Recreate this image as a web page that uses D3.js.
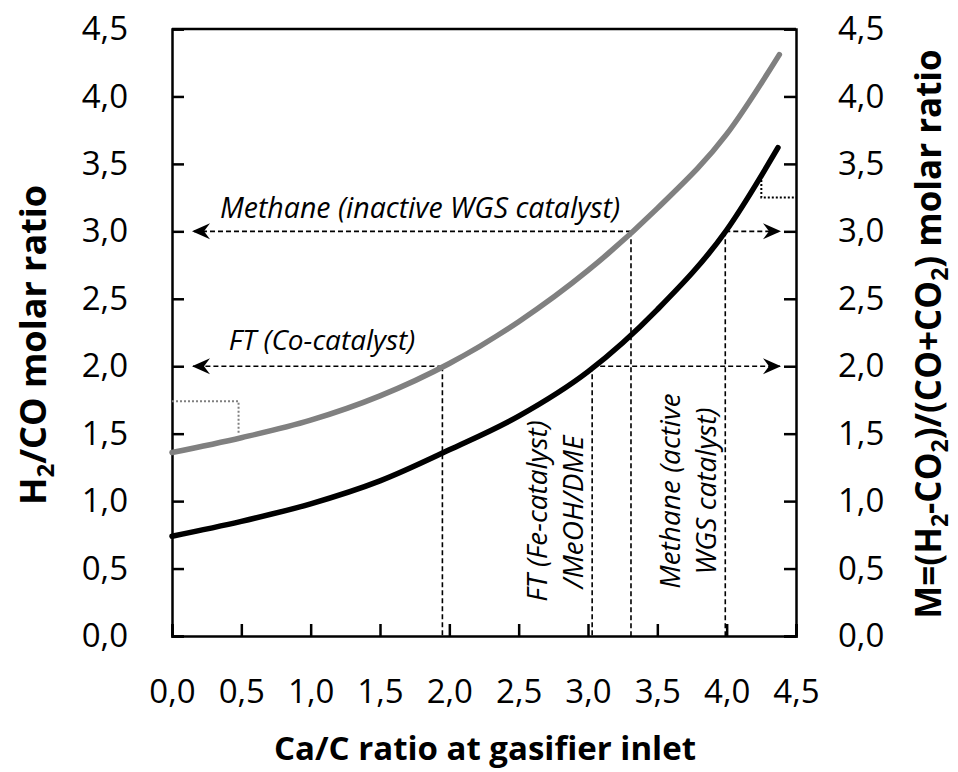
<!DOCTYPE html>
<html>
<head>
<meta charset="utf-8">
<script src="https://cdn.jsdelivr.net/npm/d3@7"></script>
<style>
  body { margin: 0; background: #fff; }
  text { font-family: "Open Sans", sans-serif; }
</style>
</head>
<body>
<svg id="chart" width="958" height="772"></svg>
<script>
// Ca/C ratio and the two curves
var caC_gray = [0, 0.5, 1.0, 1.5, 2.0, 2.5, 3.0, 3.5, 4.0, 4.38];
var h2co = [1.36, 1.47, 1.60, 1.78, 2.02, 2.33, 2.71, 3.17, 3.72, 4.31];
var caC_black = [0, 0.5, 1.0, 1.5, 2.0, 2.5, 3.0, 3.5, 4.0, 4.37];
var mRatio = [0.74, 0.85, 0.98, 1.15, 1.38, 1.63, 1.96, 2.42, 3.01, 3.62];
var ticks = [0, 0.5, 1, 1.5, 2, 2.5, 3, 3.5, 4, 4.5];

// target ratios: where each curve reaches them
var leftTargets = [
  { ratio: 3.0, caC: 3.31, label: "Methane (inactive WGS catalyst)" },
  { ratio: 2.0, caC: 1.95, label: "FT (Co-catalyst)" }
];
var rightTargets = [
  { ratio: 3.0, caC: 3.99 },
  { ratio: 2.0, caC: 3.03 }
];

var svg = d3.select("#chart");
var margin = { left: 172, right: 162, top: 29, bottom: 136 };
var W = 958, H = 772;

var x = d3.scaleLinear().domain([0, 4.5]).range([margin.left, W - margin.right]);
var y = d3.scaleLinear().domain([0, 4.5]).range([H - margin.bottom, margin.top]);

var fmt = function(d) { return d3.format(".1f")(d).replace(".", ","); };
var tickFont = 33;

// axes, ticks pointing inward
svg.append("g")
  .attr("transform", "translate(0," + y(0) + ")")
  .call(d3.axisTop(x).tickValues(ticks).tickSize(12).tickFormat(""));
svg.append("g")
  .attr("transform", "translate(0," + y(0) + ")")
  .call(d3.axisBottom(x).tickValues(ticks).tickSize(0).tickFormat(fmt))
  .call(function(g) {
    g.select(".domain").remove();
    g.selectAll("text").attr("y", 67).attr("dy", 0);
  });

svg.append("g")
  .attr("transform", "translate(" + x(0) + ",0)")
  .call(d3.axisRight(y).tickValues(ticks).tickSize(12).tickFormat(""));
svg.append("g")
  .attr("transform", "translate(" + x(0) + ",0)")
  .call(d3.axisLeft(y).tickValues(ticks).tickSize(0).tickPadding(44).tickFormat(fmt))
  .call(function(g) { g.select(".domain").remove(); });

svg.append("g")
  .attr("transform", "translate(" + x(4.5) + ",0)")
  .call(d3.axisLeft(y).tickValues(ticks).tickSize(12).tickFormat(""));
svg.append("g")
  .attr("transform", "translate(" + x(4.5) + ",0)")
  .call(d3.axisRight(y).tickValues(ticks).tickSize(0).tickPadding(42).tickFormat(fmt))
  .call(function(g) { g.select(".domain").remove(); });

// top border
svg.append("line")
  .attr("x1", x(0)).attr("x2", x(4.5))
  .attr("y1", y(4.5)).attr("y2", y(4.5))
  .attr("stroke", "#000").attr("stroke-width", 2.5);

svg.selectAll(".domain").attr("stroke", "#000").attr("stroke-width", 2.5);
svg.selectAll(".tick line").attr("stroke", "#000").attr("stroke-width", 2.5);
svg.selectAll(".tick text").attr("font-size", tickFont).attr("fill", "#000")
  .style("font-family", "'Open Sans', sans-serif");

// arrow marker
var defs = svg.append("defs");
defs.append("marker")
  .attr("id", "arrow")
  .attr("viewBox", "0 0 18 18")
  .attr("refX", 17).attr("refY", 9)
  .attr("markerWidth", 18).attr("markerHeight", 18)
  .attr("markerUnits", "userSpaceOnUse")
  .attr("orient", "auto-start-reverse")
  .append("path")
  .attr("d", "M0,1 L18,9 L0,17 L6,9 Z")
  .attr("fill", "#000");

var dash = "5,3";

// left targets: arrow from curve to left axis, dashed drop line
leftTargets.forEach(function(t) {
  svg.append("line")
    .attr("x1", x(t.caC)).attr("y1", y(t.ratio))
    .attr("x2", x(0) + 21).attr("y2", y(t.ratio))
    .attr("stroke", "#000").attr("stroke-width", 1.6)
    .attr("stroke-dasharray", dash)
    .attr("marker-end", "url(#arrow)");
  svg.append("line")
    .attr("x1", x(t.caC)).attr("y1", y(t.ratio))
    .attr("x2", x(t.caC)).attr("y2", y(0))
    .attr("stroke", "#000").attr("stroke-width", 1.6)
    .attr("stroke-dasharray", dash);
});
rightTargets.forEach(function(t) {
  svg.append("line")
    .attr("x1", x(t.caC)).attr("y1", y(t.ratio))
    .attr("x2", x(4.5) - 16).attr("y2", y(t.ratio))
    .attr("stroke", "#000").attr("stroke-width", 1.6)
    .attr("stroke-dasharray", dash)
    .attr("marker-end", "url(#arrow)");
  svg.append("line")
    .attr("x1", x(t.caC)).attr("y1", y(t.ratio))
    .attr("x2", x(t.caC)).attr("y2", y(0))
    .attr("stroke", "#000").attr("stroke-width", 1.6)
    .attr("stroke-dasharray", dash);
});

// curves
var line = d3.line().curve(d3.curveMonotoneX);
var grayPts = caC_gray.map(function(c, i) { return [x(c), y(h2co[i])]; });
var blackPts = caC_black.map(function(c, i) { return [x(c), y(mRatio[i])]; });

svg.append("path").attr("d", line(grayPts))
  .attr("fill", "none").attr("stroke", "#808080")
  .attr("stroke-width", 5.5).attr("stroke-linecap", "round");
svg.append("path").attr("d", line(blackPts))
  .attr("fill", "none").attr("stroke", "#000")
  .attr("stroke-width", 5.5).attr("stroke-linecap", "round");

// dotted brackets pointing each curve to its axis
svg.append("path")
  .attr("d", "M" + x(0) + "," + y(1.74) + "H" + x(0.48) + "V" + y(1.5))
  .attr("fill", "none").attr("stroke", "#808080")
  .attr("stroke-width", 2).attr("stroke-dasharray", "2,2");
svg.append("path")
  .attr("d", "M" + x(4.25) + "," + y(3.38) + "V" + y(3.25) + "H" + x(4.5))
  .attr("fill", "none").attr("stroke", "#000")
  .attr("stroke-width", 2).attr("stroke-dasharray", "2,2");

// annotation labels
var annFont = 28;
svg.append("text")
  .attr("x", 420).attr("y", 218)
  .attr("text-anchor", "middle")
  .attr("font-size", 28.5).attr("font-style", "italic")
  .text(leftTargets[0].label);
svg.append("text")
  .attr("x", 322).attr("y", 350)
  .attr("text-anchor", "middle")
  .attr("font-size", annFont).attr("font-style", "italic")
  .text(leftTargets[1].label);

var vLabels = [
  { text: "FT (Fe-catalyst)", cx: 547, cy: 511 },
  { text: "/MeOH/DME", cx: 583, cy: 512 },
  { text: "Methane (active", cx: 680, cy: 491 },
  { text: "WGS catalyst)", cx: 716, cy: 491 }
];
svg.selectAll(".vlab").data(vLabels).enter().append("text")
  .attr("class", "vlab")
  .attr("transform", function(d) { return "translate(" + d.cx + "," + d.cy + ") rotate(-90)"; })
  .attr("text-anchor", "middle")
  .attr("font-size", annFont).attr("font-style", "italic")
  .text(function(d) { return d.text; });

// axis titles
svg.append("text")
  .attr("x", 485).attr("y", 760)
  .attr("text-anchor", "middle")
  .attr("font-size", 33).attr("font-weight", "bold")
  .text("Ca/C ratio at gasifier inlet");

var lt = svg.append("text")
  .attr("transform", "translate(46,345) rotate(-90)")
  .attr("text-anchor", "middle")
  .attr("font-size", 36).attr("font-weight", "bold");
lt.append("tspan").text("H");
lt.append("tspan").attr("font-size", 24).attr("dy", 8).text("2");
lt.append("tspan").attr("dy", -8).text("/CO molar ratio");

var rt = svg.append("text")
  .attr("transform", "translate(941,334) rotate(-90)")
  .attr("text-anchor", "middle")
  .attr("font-size", 35).attr("font-weight", "bold");
rt.append("tspan").text("M=(H");
rt.append("tspan").attr("font-size", 23).attr("dy", 7).text("2");
rt.append("tspan").attr("dy", -7).text("-CO");
rt.append("tspan").attr("font-size", 23).attr("dy", 7).text("2");
rt.append("tspan").attr("dy", -7).text(")/(CO+CO");
rt.append("tspan").attr("font-size", 23).attr("dy", 7).text("2");
rt.append("tspan").attr("dy", -7).text(") molar ratio");
</script>
</body>
</html>
